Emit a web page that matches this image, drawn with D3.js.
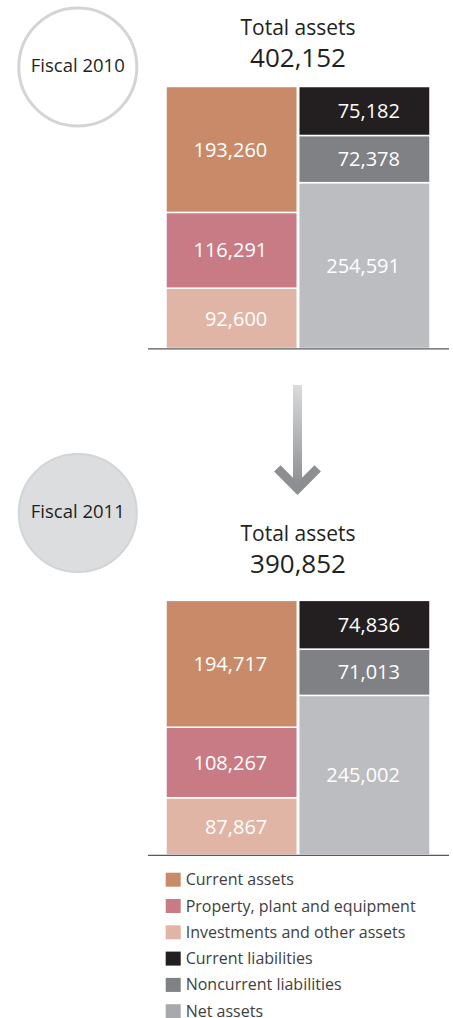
<!DOCTYPE html>
<html>
<head>
<meta charset="utf-8">
<script src="https://cdn.jsdelivr.net/npm/d3@7/dist/d3.min.js"></script>
<style>
  html, body { margin: 0; padding: 0; background: #ffffff; }
  svg { display: block; font-family: "Open Sans", "Noto Sans", sans-serif; }
</style>
</head>
<body>
<svg id="chart" width="453" height="1018"></svg>
<script>
// Balance sheet composition, millions of yen
const years = ["Fiscal 2010", "Fiscal 2011"];
const totalAssets = [402152, 390852];

const categories = [
  "Current assets",
  "Property, plant and equipment",
  "Investments and other assets",
  "Current liabilities",
  "Noncurrent liabilities",
  "Net assets"
];
const colors = ["#c98a6a", "#c97b85", "#e1b5a6", "#231f20", "#808184", "#bcbdc0"];

const currentAssets = [193260, 194717];
const propertyPlant = [116291, 108267];
const investments = [92600, 87867];
const currentLiabilities = [75182, 74836];
const noncurrentLiabilities = [72378, 71013];
const netAssets = [254591, 245002];

const svg = d3.select("#chart");
const fmt = d3.format(",");

// Shared value-to-height scale so both years are comparable
const h = d3.scaleLinear().domain([0, 402152]).range([0, 262]);

// Two columns: assets on the left, liabilities + net assets on the right
const x = d3.scaleBand()
  .domain(["assets", "claims"])
  .range([166, 430])
  .paddingInner(0.011);

// Stacks are built bottom-up
const columnStacks = i => ({
  assets: [
    { cat: 2, v: investments[i] },
    { cat: 1, v: propertyPlant[i] },
    { cat: 0, v: currentAssets[i] }
  ],
  claims: [
    { cat: 5, v: netAssets[i] },
    { cat: 4, v: noncurrentLiabilities[i] },
    { cat: 3, v: currentLiabilities[i] }
  ]
});

const panels = [
  { baseline: 348.5, titleY: 34.5, totalY: 66.7, circleY: 67, filled: false },
  { baseline: 855, titleY: 541, totalY: 573.3, circleY: 513, filled: true }
];

panels.forEach((p, i) => {
  const g = svg.append("g");

  // Year badge
  g.append("circle")
    .attr("cx", 77.8).attr("cy", p.circleY).attr("r", 59)
    .attr("fill", p.filled ? "#dcdddf" : "#ffffff")
    .attr("stroke", p.filled ? "#d3d4d6" : "#d4d4d5")
    .attr("stroke-width", p.filled ? 2 : 3);
  g.append("text")
    .attr("x", 77.8).attr("y", p.circleY + 5)
    .attr("text-anchor", "middle")
    .attr("font-size", 18.5)
    .attr("fill", "#231f20")
    .text(years[i]);

  // Heading
  g.append("text")
    .attr("x", 298).attr("y", p.titleY)
    .attr("text-anchor", "middle")
    .attr("font-size", 21)
    .attr("fill", "#231f20")
    .text("Total assets");
  g.append("text")
    .attr("x", 298).attr("y", p.totalY)
    .attr("text-anchor", "middle")
    .attr("font-size", 26)
    .attr("fill", "#231f20")
    .text(fmt(totalAssets[i]));

  // Stacked blocks
  const stacks = columnStacks(i);
  Object.keys(stacks).forEach(col => {
    let acc = 0;
    const segs = stacks[col].map(s => {
      const y0 = acc; acc += s.v;
      return { ...s, y0, y1: acc };
    });
    const cg = g.append("g");
    cg.selectAll("rect")
      .data(segs)
      .join("rect")
      .attr("x", x(col))
      .attr("width", x.bandwidth())
      .attr("y", d => p.baseline - h(d.y1))
      .attr("height", d => h(d.y1) - h(d.y0))
      .attr("fill", d => colors[d.cat])
      .attr("stroke", "#ffffff")
      .attr("stroke-width", 1.5);
    cg.selectAll("text")
      .data(segs)
      .join("text")
      .attr("x", x(col) + x.bandwidth() - 30)
      .attr("y", d => p.baseline - (h(d.y0) + h(d.y1)) / 2)
      .attr("dy", "0.36em")
      .attr("text-anchor", "end")
      .attr("font-size", 20)
      .attr("fill", "#ffffff")
      .text(d => fmt(d.v));
  });

  // Baseline rule
  g.append("line")
    .attr("x1", 148).attr("x2", 449)
    .attr("y1", p.baseline + 0.3).attr("y2", p.baseline + 0.3)
    .attr("stroke", "#58595b")
    .attr("stroke-width", 1.3);
});

// Transition arrow between the two years
const defs = svg.append("defs");
const grad = defs.append("linearGradient")
  .attr("id", "shaftGrad")
  .attr("x1", 0).attr("y1", 0).attr("x2", 0).attr("y2", 1);
grad.append("stop").attr("offset", "0%").attr("stop-color", "#dadbdd");
grad.append("stop").attr("offset", "100%").attr("stop-color", "#8c8d90");

svg.append("rect")
  .attr("x", 293).attr("y", 385)
  .attr("width", 9).attr("height", 103)
  .attr("fill", "url(#shaftGrad)");
svg.append("path")
  .attr("d", "M277.3,468.3 L297.5,488.6 L317.7,468.3")
  .attr("fill", "none")
  .attr("stroke", "#8d8e91")
  .attr("stroke-width", 9)
  .attr("stroke-linejoin", "miter");

// Legend
const legend = svg.append("g").attr("transform", "translate(165.7,872.7)");
const rows = legend.selectAll("g")
  .data(categories)
  .join("g")
  .attr("transform", (d, k) => `translate(0,${k * 26.3})`);
rows.append("rect")
  .attr("width", 15).attr("height", 14)
  .attr("fill", (d, k) => k === 5 ? "#a8a9ac" : colors[k]);
rows.append("text")
  .attr("x", 20).attr("y", 12.5)
  .attr("font-size", 16)
  .attr("fill", "#414042")
  .text(d => d);
</script>
</body>
</html>
